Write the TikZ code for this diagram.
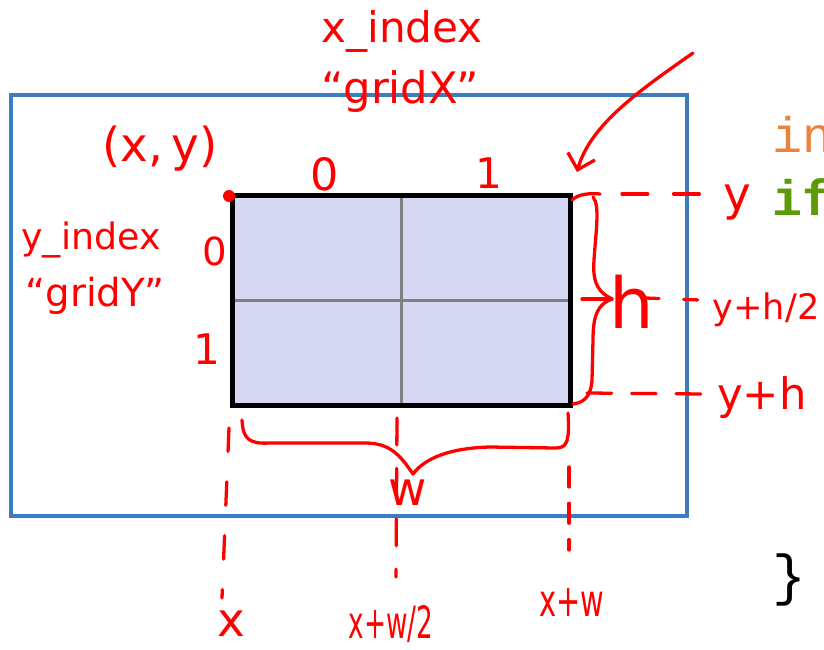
\documentclass[tikz,border=0pt]{standalone}
\usepackage{fontspec}
\usepackage{graphicx}
\newfontfamily\hwfont{DejaVu Sans}
\newfontfamily\codefont{Liberation Mono}
\usetikzlibrary{arrows.meta}
\definecolor{frameblue}{HTML}{3B7DC1}
\definecolor{cellfill}{HTML}{D6D7F2}
\definecolor{gridgray}{HTML}{808080}
\definecolor{pen}{HTML}{FF0000}
\definecolor{kworange}{HTML}{E8823D}
\definecolor{kwgreen}{HTML}{5E9A08}
\newcommand\narrowtxt[2]{\scalebox{#1}[1]{#2}}
\tikzset{
  hw/.style={text=pen, inner sep=0pt, font=\hwfont\fontsize{#1}{#1}\selectfont},
  hw/.default=36,
  ink/.style={draw=pen, line width=2.8pt, line cap=round, line join=round},
  hdash/.style={ink, dash pattern=on 22pt off 22pt},
  codetxt/.style={inner sep=0pt, font=\codefont\fontsize{42.7}{46}\selectfont},
}
\begin{document}
\begin{tikzpicture}[x=0.03cm,y=-0.03cm]
\useasboundingbox (0,0) rectangle (824,649);
\clip (0,0) rectangle (824,649);

% outer blue frame
\node[draw=frameblue, line width=2.9pt, minimum width=20.28cm, minimum height=12.63cm, inner sep=0pt] (frame) at (349,305.5) {};

% grid
\node[fill=cellfill, minimum width=10.11cm, minimum height=6.27cm, inner sep=0pt] (grid) at (401.5,300.5) {};
\draw[gridgray, line width=3.3pt] (grid.north) -- (grid.south);
\draw[gridgray, line width=3.3pt] (grid.west) -- (grid.east);
\draw[black, line width=3.9pt] (grid.south west) rectangle (grid.north east);

% corner dot
\fill[pen] (229,196) circle[radius=0.18cm];
\coordinate (corner) at (229,196);

% labels
\node[hw=36] (xidx) at (402,31) {x\_index};
\node[hw=37] (gridx) at (400,92) {“gridX”};
\node[hw=40] (xy) at (160,149) {(x,\,y)};
\node[hw=38] (c0) at (325,174) {0};
\node[hw=36] (c1) at (489,173) {1};
\node[hw=33] (r0) at (215,251) {0};
\node[hw=36] (r1) at (207,349) {1};
\node[hw=31] (yidx) at (91,240) {y\_index};
\node[hw=33] (gridy) at (95,296) {“gridY”};

% curved arrow to the grid corner
\coordinate (arrowstart) at (693,53);
\coordinate (arrowend) at (577,172);
\draw[ink, -{Straight Barb[length=12pt,width=24pt]}] (arrowstart) .. controls (640,90) and (590,125) .. (arrowend);

% right brace (height)
\draw[ink] (572,200) .. controls (578,194) and (590,193) .. (600,194);
\draw[ink] (593,197) .. controls (600,205) and (596,230) .. (594,260) .. controls (592,285) and (600,293) .. (612,299)
  .. controls (598,304) and (593,315) .. (593,340) -- (592,380) .. controls (591,398) and (582,403) .. (573,404);
\draw[ink] (582,299) -- (612,299);
\node[hw=60] (h) at (632,302) {h};

% right labels and dashed lines
\node[hw=40] (ly) at (737,203) {y};
\node[hw=30] (lyh2) at (766,310) {y+h/2};
\node[hw=37] (lyh) at (762,398) {y+h};
\coordinate (yd0) at (622,194);
\coordinate (yd1) at (706,194);
\draw[hdash] (yd0) -- (yd1);
\coordinate (hd0) at (645,298);
\coordinate (hd1) at (700,300);
\draw[ink, dash pattern=on 12pt off 21pt] (hd0) -- (hd1);
\coordinate (yhd0) at (587,393);
\coordinate (yhd1) at (704,394);
\draw[ink, dash pattern=on 21pt off 17pt] (yhd0) -- (yhd1);

% bottom brace (width)
\draw[ink] (242,420) .. controls (243,440) and (250,444) .. (270,443) -- (365,443)
  .. controls (390,443) and (400,455) .. (413,474)
  .. controls (425,458) and (450,448) .. (490,447) -- (555,448)
  .. controls (566,448) and (570,444) .. (568,413);
\node[hw=40] (w) at (408,493) {w};

% bottom labels and dashed lines
\node[hw=40] (lx) at (231,624) {x};
\node[hw=38] (lxw2) at (391,624) {\narrowtxt{0.59}{x+w/2}};
\node[hw=38] (lxw) at (572,603) {\narrowtxt{0.65}{x+w}};
\coordinate (xd0) at (229,428);
\coordinate (xd1) at (222,598);
\draw[ink, dash pattern=on 20pt off 26pt] (xd0) -- (xd1);
\coordinate (xwd0) at (397,418);
\coordinate (xwd1) at (396,577);
\draw[ink, dash pattern=on 23pt off 20pt] (xwd0) -- (xwd1);
\coordinate (xwwd0) at (569,467);
\coordinate (xwwd1) at (569,550);
\draw[ink, dash pattern=on 17pt off 14pt] (xwwd0) -- (xwwd1);

% code fragments
\node[codetxt, text=kworange, anchor=base west] (kwin) at (772,152) {in};
\node[codetxt, text=kwgreen, anchor=base west, font=\codefont\bfseries\fontsize{42.7}{46}\selectfont] (kwif) at (772,215) {if};
\node[inner sep=0pt, font=\codefont\fontsize{48}{50}\selectfont] (closebrace) at (789,580) {\}};
\end{tikzpicture}
\end{document}
